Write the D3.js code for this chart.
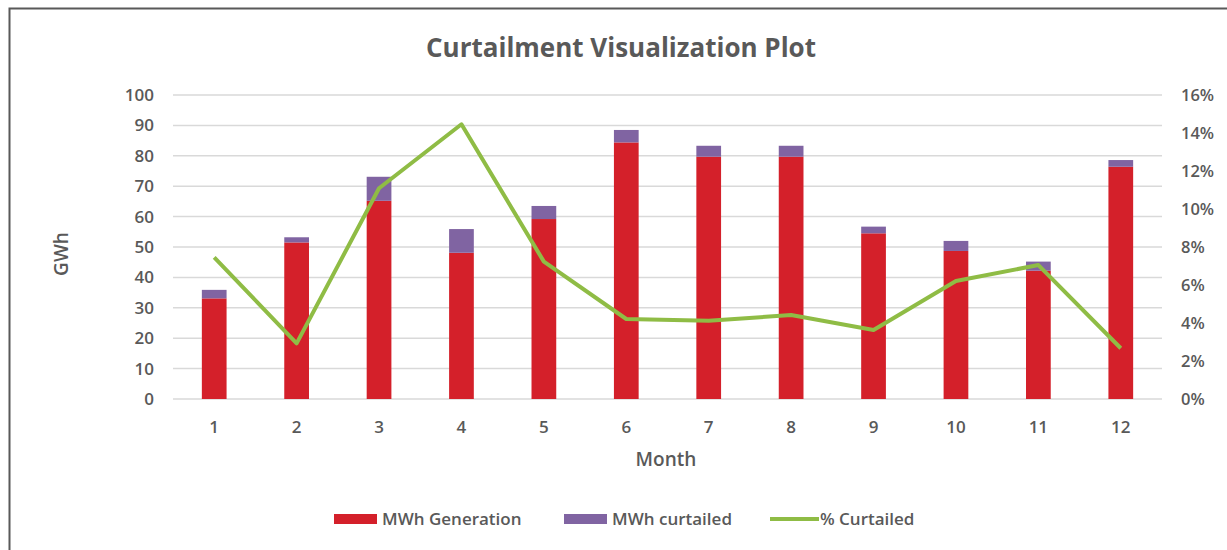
<!DOCTYPE html>
<html>
<head>
<meta charset="utf-8">
<script src="https://cdn.jsdelivr.net/npm/d3@7"></script>
<style>
  body { margin: 0; background: #fff; }
  text { font-family: "Open Sans", "DejaVu Sans", sans-serif; fill: #595959; }
</style>
</head>
<body>
<div id="chart"></div>
<script>
// --- data ---
var months = ["1", "2", "3", "4", "5", "6", "7", "8", "9", "10", "11", "12"];
var generation = [33.1, 51.5, 65.2, 48.1, 59.2, 84.4, 79.7, 79.7, 54.5, 48.7, 42.2, 76.4];
var curtailed = [2.8, 1.7, 7.9, 7.8, 4.3, 4.1, 3.6, 3.6, 2.2, 3.3, 3.0, 2.2];
var pctCurtailed = [7.46, 2.93, 11.09, 14.46, 7.23, 4.21, 4.12, 4.42, 3.63, 6.21, 7.05, 2.67];
var leftTicks = [0, 10, 20, 30, 40, 50, 60, 70, 80, 90, 100];
var rightTicks = [0, 2, 4, 6, 8, 10, 12, 14, 16];

var W = 1227, H = 550;
var margin = { left: 173, right: 65, top: 95, bottom: 151 };

var svg = d3.select("#chart").append("svg")
  .attr("width", W).attr("height", H);

// outer frame
svg.append("rect")
  .attr("x", 9.5).attr("y", 8.5)
  .attr("width", W + 20).attr("height", H + 20)
  .attr("fill", "none").attr("stroke", "#595959").attr("stroke-width", 2);

// --- scales ---
var x = d3.scaleBand().domain(months)
  .range([margin.left, W - margin.right])
  .paddingInner(0.7).paddingOuter(0.35);
var y = d3.scaleLinear().domain([0, 100]).range([H - margin.bottom, margin.top]);
var y2 = d3.scaleLinear().domain([0, 16]).range([H - margin.bottom, margin.top]);

// gridlines
svg.append("g").selectAll("line").data(leftTicks).join("line")
  .attr("x1", margin.left).attr("x2", W - margin.right)
  .attr("y1", d => y(d)).attr("y2", d => y(d))
  .attr("stroke", "#d9d9d9").attr("stroke-width", 1.5);

// left axis labels
svg.append("g").selectAll("text").data(leftTicks).join("text")
  .attr("x", 154).attr("y", d => y(d)).attr("dy", "0.35em")
  .attr("text-anchor", "end").attr("font-size", 17).attr("font-weight", 600)
  .text(d => d);

// right axis labels
svg.append("g").selectAll("text").data(rightTicks).join("text")
  .attr("x", 1181).attr("y", d => y2(d)).attr("dy", "0.35em")
  .attr("text-anchor", "start").attr("font-size", 16.5).attr("font-weight", 600)
  .text(d => d + "%");

// month labels
svg.append("g").selectAll("text").data(months).join("text")
  .attr("x", d => x(d) + x.bandwidth() / 2).attr("y", 427).attr("dy", "0.35em")
  .attr("text-anchor", "middle").attr("font-size", 17).attr("font-weight", 600)
  .text(d => d);

// stacked bars
var rows = months.map((m, i) => ({ month: m, gen: generation[i], cur: curtailed[i] }));
var stack = d3.stack().keys(["gen", "cur"])(rows);
var barColors = { gen: "#d4202a", cur: "#8064a2" };

svg.append("g").selectAll("g").data(stack).join("g")
  .attr("fill", s => barColors[s.key])
  .selectAll("rect").data(s => s).join("rect")
  .attr("x", d => x(d.data.month))
  .attr("width", x.bandwidth())
  .attr("y", d => y(d[1]))
  .attr("height", d => y(d[0]) - y(d[1]));

// % curtailed line
var line = d3.line()
  .x((d, i) => x(months[i]) + x.bandwidth() / 2)
  .y(d => y2(d));
svg.append("path").datum(pctCurtailed)
  .attr("d", line)
  .attr("fill", "none").attr("stroke", "#8fbc45").attr("stroke-width", 4)
  .attr("stroke-linejoin", "round");

// titles
svg.append("text").attr("x", 621).attr("y", 47.5).attr("dy", "0.35em")
  .attr("text-anchor", "middle").attr("font-size", 26).attr("font-weight", 700)
  .text("Curtailment Visualization Plot");

svg.append("text").attr("transform", "translate(61,254) rotate(-90)")
  .attr("dy", "0.35em").attr("text-anchor", "middle")
  .attr("font-size", 19).attr("font-weight", 600).text("GWh");

svg.append("text").attr("x", 666).attr("y", 459).attr("dy", "0.35em")
  .attr("text-anchor", "middle").attr("font-size", 19).attr("font-weight", 600)
  .text("Month");

// legend
var legend = [
  { label: "MWh Generation", color: "#d4202a", type: "rect", x: 334 },
  { label: "MWh curtailed", color: "#8064a2", type: "rect", x: 564 },
  { label: "% Curtailed", color: "#8fbc45", type: "line", x: 770 }
];
var lg = svg.append("g").selectAll("g").data(legend).join("g")
  .attr("transform", d => "translate(" + d.x + ",519)");
lg.filter(d => d.type === "rect").append("rect")
  .attr("x", 0).attr("y", -5).attr("width", 43).attr("height", 10)
  .attr("fill", d => d.color);
lg.filter(d => d.type === "line").append("line")
  .attr("x1", 0).attr("x2", 49).attr("y1", 0).attr("y2", 0)
  .attr("stroke", d => d.color).attr("stroke-width", 4);
lg.append("text")
  .attr("x", d => d.type === "line" ? 50 : 48).attr("dy", "0.35em")
  .attr("font-size", 17).attr("font-weight", 600)
  .text(d => d.label);
</script>
</body>
</html>
